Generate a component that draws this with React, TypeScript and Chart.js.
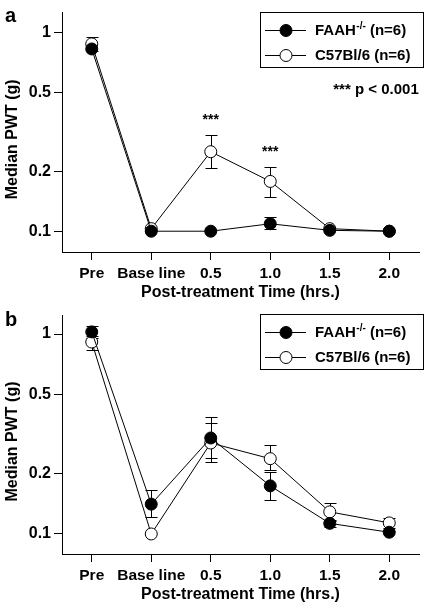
import React, { useEffect, useRef } from 'react';
import { Chart, registerables } from 'chart.js';

Chart.register(...registerables);

const FONT = '"Liberation Sans", Arial, Helvetica, sans-serif';

const categories = ['Pre', 'Base line', '0.5', '1.0', '1.5', '2.0'];
const yTickValues = [0.1, 0.2, 0.5, 1];

// Panel a
const faahA = [0.825, 0.1, 0.1, 0.109, 0.101, 0.1];
const faahAHi = [null, null, null, 0.118, null, null];
const faahALo = [null, null, null, 0.102, null, null];
const c57A = [0.875, 0.103, 0.251, 0.178, 0.103, 0.1];
const c57AHi = [0.95, null, 0.304, 0.211, null, null];
const c57ALo = [0.81, null, 0.209, 0.149, null, null];
const starsA = [2, 3];

// Panel b
const faahB = [1.025, 0.141, 0.302, 0.174, 0.113, 0.102];
const faahBHi = [1.096, 0.165, 0.385, 0.203, 0.118, null];
const faahBLo = [0.96, 0.122, 0.24, 0.148, 0.108, null];
const c57B = [0.912, 0.1, 0.285, 0.238, 0.129, 0.1136];
const c57BHi = [0.98, null, 0.361, 0.279, 0.143, 0.12];
const c57BLo = [0.835, null, 0.228, 0.21, 0.116, 0.107];

const legendLabels = ['FAAH', 'C57Bl/6 (n=6)'];

type Num = number | null;

interface PanelProps {
  letter: string;
  letterBaseline: number;
  faah: number[];
  faahHi: Num[];
  faahLo: Num[];
  c57: number[];
  c57Hi: Num[];
  c57Lo: Num[];
  stars: number[];
  showP: boolean;
  yMin: number;
  yMax: number;
  padTop: number;
}

function Panel(props: PanelProps) {
  const ref = useRef<HTMLCanvasElement | null>(null);

  useEffect(() => {
    if (!ref.current) return;
    const p = props;

    const errorBars = {
      id: 'errorBars',
      beforeDatasetsDraw(chart: any) {
        const { ctx } = chart;
        const xs = chart.scales.x;
        const ys = chart.scales.y;
        ctx.save();
        ctx.strokeStyle = '#000';
        ctx.lineWidth = 1;
        const sets: [Num[], Num[]][] = [
          [p.c57Hi, p.c57Lo],
          [p.faahHi, p.faahLo],
        ];
        sets.forEach(([hi, lo]) => {
          hi.forEach((h, i) => {
            const l = lo[i];
            if (h == null || l == null) return;
            const px = Math.round(xs.getPixelForValue(i)) + 0.5;
            const yh = Math.round(ys.getPixelForValue(h)) + 0.5;
            const yl = Math.round(ys.getPixelForValue(l)) + 0.5;
            ctx.beginPath();
            ctx.moveTo(px, yh);
            ctx.lineTo(px, yl);
            ctx.moveTo(px - 6, yh);
            ctx.lineTo(px + 6, yh);
            ctx.moveTo(px - 6, yl);
            ctx.lineTo(px + 6, yl);
            ctx.stroke();
          });
        });
        ctx.restore();
      },
    };

    const annotations = {
      id: 'annotations',
      afterDraw(chart: any) {
        const { ctx, chartArea } = chart;
        const xs = chart.scales.x;
        const ys = chart.scales.y;
        ctx.save();
        ctx.fillStyle = '#000';
        ctx.strokeStyle = '#000';

        // panel letter
        ctx.font = `bold 20px ${FONT}`;
        ctx.textAlign = 'left';
        ctx.textBaseline = 'alphabetic';
        ctx.fillText(p.letter, 5, p.letterBaseline);

        // y axis title
        ctx.save();
        ctx.font = `bold 16px ${FONT}`;
        ctx.textAlign = 'center';
        ctx.textBaseline = 'middle';
        ctx.translate(13, (chartArea.top + chartArea.bottom) / 2 + 7);
        ctx.rotate(-Math.PI / 2);
        ctx.fillText('Median PWT (g)', 0, 0);
        ctx.restore();

        // stars
        ctx.font = `bold 14px ${FONT}`;
        ctx.textAlign = 'center';
        ctx.textBaseline = 'middle';
        p.stars.forEach((i) => {
          const h = p.c57Hi[i];
          if (h == null) return;
          ctx.fillText('***', xs.getPixelForValue(i), ys.getPixelForValue(h) - 15);
        });

        if (p.showP) {
          ctx.font = `bold 15px ${FONT}`;
          ctx.textAlign = 'center';
          ctx.fillText('*** p < 0.001', 376, 90);
        }

        // legend
        const bx = 260.5;
        const by = 12.5;
        ctx.lineWidth = 1;
        ctx.strokeRect(bx, by, 163, 55);
        const rows = [30, 55];
        rows.forEach((ry, k) => {
          ctx.beginPath();
          ctx.moveTo(265, ry + 0.5);
          ctx.lineTo(306, ry + 0.5);
          ctx.stroke();
          ctx.beginPath();
          ctx.arc(286, ry + 0.5, 6, 0, Math.PI * 2);
          ctx.fillStyle = k === 0 ? '#000' : '#fff';
          ctx.fill();
          ctx.stroke();
          ctx.fillStyle = '#000';
          ctx.textAlign = 'left';
          ctx.textBaseline = 'middle';
          ctx.font = `bold 15px ${FONT}`;
          if (k === 0) {
            let tx = 315;
            ctx.fillText(legendLabels[0], tx, ry + 1);
            tx += ctx.measureText(legendLabels[0]).width + 0.5;
            ctx.font = `bold 10px ${FONT}`;
            ctx.fillText('-/-', tx, ry - 4);
            tx += ctx.measureText('-/-').width;
            ctx.font = `bold 15px ${FONT}`;
            ctx.fillText(' (n=6)', tx, ry + 1);
          } else {
            ctx.fillText(legendLabels[1], 315, ry + 1);
          }
        });
        ctx.restore();
      },
    };

    const chart = new Chart(ref.current, {
      type: 'line',
      data: {
        labels: categories,
        datasets: [
          {
            label: 'FAAH-/- (n=6)',
            data: p.faah,
            borderColor: '#000',
            borderWidth: 1,
            pointRadius: 6,
            pointHoverRadius: 6,
            pointBackgroundColor: '#000',
            pointBorderColor: '#000',
            pointBorderWidth: 1,
            tension: 0,
            fill: false,
          },
          {
            label: 'C57Bl/6 (n=6)',
            data: p.c57,
            borderColor: '#000',
            borderWidth: 1,
            pointRadius: 6,
            pointHoverRadius: 6,
            pointBackgroundColor: '#fff',
            pointBorderColor: '#000',
            pointBorderWidth: 1,
            tension: 0,
            fill: false,
          },
        ],
      },
      options: {
        animation: false,
        responsive: false,
        devicePixelRatio: 1,
        events: [],
        layout: { padding: { top: p.padTop, right: 2, left: 0, bottom: 0 } },
        plugins: {
          legend: { display: false },
          tooltip: { enabled: false },
          title: { display: false },
        },
        scales: {
          x: {
            type: 'category',
            offset: true,
            grid: {
              display: true,
              drawOnChartArea: false,
              drawTicks: true,
              tickLength: 8,
              color: '#000',
              lineWidth: 1,
              offset: false,
            },
            border: { display: true, color: '#000', width: 1 },
            ticks: {
              color: '#000',
              font: { family: FONT, size: 15.5, weight: 'bold' },
              padding: 4,
              maxRotation: 0,
              autoSkip: false,
            },
            title: {
              display: true,
              text: 'Post-treatment Time (hrs.)',
              color: '#000',
              font: { family: FONT, size: 16, weight: 'bold', lineHeight: 1 },
              padding: { top: 0, bottom: 1 },
            },
            afterFit: (s: any) => {
              s.height = 50;
            },
          },
          y: {
            type: 'logarithmic',
            min: p.yMin,
            max: p.yMax,
            afterBuildTicks: (s: any) => {
              s.ticks = yTickValues.map((v) => ({ value: v }));
            },
            grid: {
              display: true,
              drawOnChartArea: false,
              drawTicks: true,
              tickLength: 8,
              color: '#000',
              lineWidth: 1,
            },
            border: { display: true, color: '#000', width: 1 },
            ticks: {
              color: '#000',
              font: { family: FONT, size: 16, weight: 'bold' },
              padding: 3,
              callback: (v: any) => String(v),
            },
            title: { display: false },
            afterFit: (s: any) => {
              s.width = 62;
            },
          },
        },
      },
      plugins: [errorBars, annotations],
    } as any);

    return () => chart.destroy();
  }, []);

  return <canvas ref={ref} width={426} height={302} style={{ display: 'block', width: 426, height: 302 }} />;
}

export default function App() {
  return (
    <div style={{ position: 'absolute', left: 0, top: 0, width: 426, height: 604, background: '#fff' }}>
      <Panel
        letter="a"
        letterBaseline={22}
        faah={faahA}
        faahHi={faahAHi}
        faahLo={faahALo}
        c57={c57A}
        c57Hi={c57AHi}
        c57Lo={c57ALo}
        stars={starsA}
        showP={true}
        yMin={0.0786}
        yMax={1.257}
        padTop={10}
      />
      <Panel
        letter="b"
        letterBaseline={24}
        faah={faahB}
        faahHi={faahBHi}
        faahLo={faahBLo}
        c57={c57B}
        c57Hi={c57BHi}
        c57Lo={c57BLo}
        stars={[]}
        showP={false}
        yMin={0.0794}
        yMax={1.245}
        padTop={13}
      />
    </div>
  );
}
